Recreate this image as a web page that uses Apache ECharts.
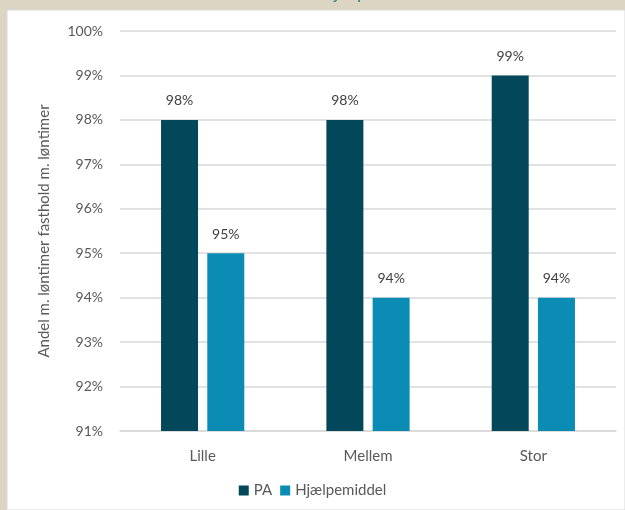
<!DOCTYPE html>
<html><head><meta charset="utf-8">
<script src="https://cdn.jsdelivr.net/npm/echarts@6/dist/echarts.min.js"></script>
<style>html,body{margin:0;padding:0;background:#ddd5c3}#c{width:625px;height:510px}</style>
</head><body><div id="c"></div>
<script>
var categories = ['Lille', 'Mellem', 'Stor'];
var paValues = [98, 98, 99];
var hjaelpValues = [95, 94, 94];
var seriesNames = ['PA', 'Hjælpemiddel'];
var yAxisName = 'Andel m. løntimer fasthold m. løntimer';
var titleText = 'fastholdt med hjælpemidler';

var chart = echarts.init(document.getElementById('c'), null, {renderer: 'canvas'});
var font = 'Lato, "Open Sans", sans-serif';
chart.setOption({
  backgroundColor: '#ddd5c3',
  animation: false,
  textStyle: {fontFamily: font},
  graphic: [
    {type: 'rect', shape: {x: 7, y: 10, width: 618, height: 500}, style: {fill: '#ffffff', stroke: '#d9d9d9', lineWidth: 1}, z: -10},
    {type: 'text', x: 318, y: 2, style: {text: titleText, fill: '#3d7d8d', font: '18px ' + font, align: 'center', verticalAlign: 'bottom'}, z: -5}
  ],
  grid: {left: 120, right: 9, top: 31, bottom: 79, containLabel: false},
  legend: {
    data: seriesNames, bottom: 7, left: 'center', itemWidth: 10, itemHeight: 10, itemGap: 8,
    icon: 'rect', textStyle: {color: '#595959', fontSize: 15, fontFamily: font}
  },
  xAxis: {
    type: 'category', data: categories,
    axisLine: {lineStyle: {color: '#d9d9d9', width: 1.5}}, axisTick: {show: false},
    axisLabel: {color: '#595959', fontSize: 15, margin: 18}
  },
  yAxis: {
    type: 'value', min: 91, max: 100, interval: 1,
    name: yAxisName, nameLocation: 'middle', nameGap: 68, nameRotate: 90,
    nameTextStyle: {color: '#595959', fontSize: 15},
    axisLine: {show: false}, axisTick: {show: false},
    splitLine: {lineStyle: {color: '#d9d9d9', width: 1.5}},
    axisLabel: {color: '#595959', fontSize: 14, margin: 17, formatter: '{value}%'}
  },
  series: [
    {name: seriesNames[0], type: 'bar', data: paValues, barWidth: 37, barGap: '25%',
     itemStyle: {color: '#02475a'},
     label: {show: true, position: 'top', distance: 12, color: '#404040', fontSize: 14, formatter: '{c}%'}},
    {name: seriesNames[1], type: 'bar', data: hjaelpValues, barWidth: 37,
     itemStyle: {color: '#0a8cb4'},
     label: {show: true, position: 'top', distance: 12, color: '#404040', fontSize: 14, formatter: '{c}%'}}
  ]
});
</script></body></html>
